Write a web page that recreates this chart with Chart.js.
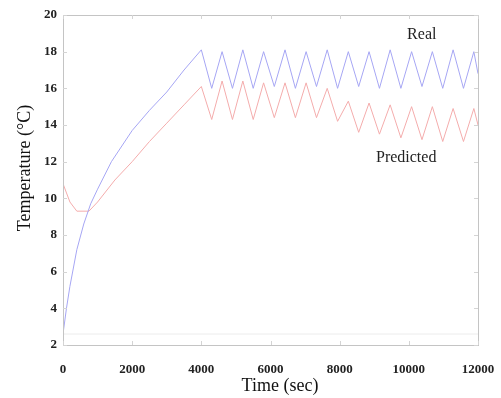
<!DOCTYPE html>
<html>
<head>
<meta charset="utf-8">
<script src="https://cdn.jsdelivr.net/npm/chart.js@4.4.0/dist/chart.umd.min.js"></script>
<style>
  body { margin: 0; background: #fff; }
  #wrap { width: 501px; height: 398px; }
</style>
</head>
<body>
<div id="wrap"><canvas id="tempChart" width="501" height="398"></canvas></div>
<script>
const realTime = [0, 100, 200, 400, 600, 800, 1000, 1400, 2000, 2500, 3000, 3500, 4000,
    4300, 4600, 4900, 5200, 5500, 5800, 6110, 6420, 6720, 7030, 7330, 7640, 7940, 8250,
    8550, 8850, 9150, 9460, 9770, 10080, 10380, 10680, 10980, 11280, 11580, 11880, 12000];
const realTemp = [2.6, 4.0, 5.2, 7.2, 8.6, 9.7, 10.5, 12.0, 13.7, 14.8, 15.8, 17.0, 18.1,
    16.0, 18.0, 16.0, 18.1, 16.0, 18.0, 16.1, 18.1, 16.0, 18.0, 16.1, 18.1, 16.0, 18.0,
    16.1, 18.0, 16.0, 18.1, 16.0, 18.0, 16.1, 18.0, 16.0, 18.1, 16.0, 18.0, 16.8];

// Predicted temperature
const predTime = [0, 200, 400, 750, 1000, 1500, 2000, 2500, 3000, 3500, 4000,
    4300, 4600, 4900, 5200, 5500, 5800, 6110, 6420, 6720, 7030, 7330, 7640, 7940, 8250,
    8550, 8850, 9150, 9460, 9770, 10080, 10380, 10680, 10980, 11280, 11580, 11880, 12000];
const predTemp = [10.8, 9.8, 9.3, 9.3, 9.8, 11.0, 12.0, 13.1, 14.1, 15.1, 16.1,
    14.3, 16.4, 14.3, 16.4, 14.3, 16.3, 14.4, 16.3, 14.4, 16.3, 14.4, 16.0, 14.2, 15.3,
    13.6, 15.2, 13.5, 15.1, 13.3, 15.0, 13.2, 15.0, 13.1, 14.9, 13.1, 14.9, 14.0];

// faint baseline near the bottom of the plot
const baseTime = [0, 12000];
const baseTemp = [2.6, 2.6];

const xTicks = [0, 2000, 4000, 6000, 8000, 10000, 12000];
const yTicks = [2, 4, 6, 8, 10, 12, 14, 16, 18, 20];

const seriesLabels = [
    { text: 'Real', x: 9950, y: 18.9 },
    { text: 'Predicted', x: 9050, y: 12.2 }
];

const toPoints = (xs, ys) => xs.map((x, i) => ({ x: x, y: ys[i] }));

const serif = "'Liberation Serif', 'DejaVu Serif', serif";

const framePlugin = {
    id: 'frame',
    afterDatasetsDraw(chart) {
        const { ctx, chartArea: a, scales } = chart;
        ctx.save();
        ctx.strokeStyle = '#c4c4c4';
        ctx.lineWidth = 1;
        ctx.strokeRect(a.left + 0.5, a.top + 0.5, a.right - a.left, a.bottom - a.top);
        // small inward tick marks
        ctx.strokeStyle = '#d4d4d4';
        xTicks.forEach(v => {
            const px = Math.round(scales.x.getPixelForValue(v)) + 0.5;
            ctx.beginPath();
            ctx.moveTo(px, a.bottom); ctx.lineTo(px, a.bottom - 4);
            ctx.moveTo(px, a.top); ctx.lineTo(px, a.top + 4);
            ctx.stroke();
        });
        yTicks.forEach(v => {
            const py = Math.round(scales.y.getPixelForValue(v)) + 0.5;
            ctx.beginPath();
            ctx.moveTo(a.left, py); ctx.lineTo(a.left + 4, py);
            ctx.moveTo(a.right, py); ctx.lineTo(a.right - 4, py);
            ctx.stroke();
        });
        // series labels
        ctx.fillStyle = '#222';
        ctx.font = "16px " + serif;
        ctx.textAlign = 'left';
        ctx.textBaseline = 'middle';
        seriesLabels.forEach(l => {
            ctx.fillText(l.text, scales.x.getPixelForValue(l.x), scales.y.getPixelForValue(l.y));
        });
        // axis titles
        ctx.fillStyle = '#111';
        ctx.font = "18px " + serif;
        ctx.textAlign = 'center';
        ctx.fillText('Time (sec)', 280, 386);
        ctx.translate(25, 168);
        ctx.rotate(-Math.PI / 2);
        ctx.fillText('Temperature (°C)', 0, 0);
        ctx.restore();
    }
};

new Chart(document.getElementById('tempChart'), {
    type: 'line',
    data: {
        datasets: [
            {
                label: 'Real',
                data: toPoints(realTime, realTemp),
                borderColor: '#a6a6f4',
                borderWidth: 1,
                pointRadius: 0,
                tension: 0
            },
            {
                label: 'Predicted',
                data: toPoints(predTime, predTemp),
                borderColor: '#f4acac',
                borderWidth: 1,
                pointRadius: 0,
                tension: 0
            },
            {
                label: 'Base',
                data: toPoints(baseTime, baseTemp),
                borderColor: '#ececec',
                borderWidth: 1,
                pointRadius: 0
            }
        ]
    },
    options: {
        responsive: false,
        animation: false,
        layout: { padding: { top: 15, right: 23, left: 0, bottom: 0 } },
        plugins: {
            legend: { display: false },
            tooltip: { enabled: false }
        },
        scales: {
            x: {
                type: 'linear',
                min: 0,
                max: 12000,
                afterBuildTicks: s => { s.ticks = xTicks.map(v => ({ value: v })); },
                afterFit: s => { s.height = 53; s.paddingLeft = 0; s.paddingRight = 0; },
                grid: { display: false, drawTicks: false },
                border: { display: false },
                ticks: {
                    padding: 17,
                    color: '#222',
                    font: { family: serif, size: 13, weight: 'bold' },
                    callback: v => String(v),
                    maxRotation: 0
                },
                title: { display: false }
            },
            y: {
                min: 2,
                max: 20,
                afterBuildTicks: s => { s.ticks = yTicks.map(v => ({ value: v })); },
                afterFit: s => { s.width = 63; s.paddingTop = 0; s.paddingBottom = 0; },
                grid: { display: false, drawTicks: false },
                border: { display: false },
                ticks: {
                    padding: 6,
                    color: '#222',
                    font: { family: serif, size: 13, weight: 'bold' }
                },
                title: { display: false }
            }
        }
    },
    plugins: [framePlugin]
});
</script>
</body>
</html>
